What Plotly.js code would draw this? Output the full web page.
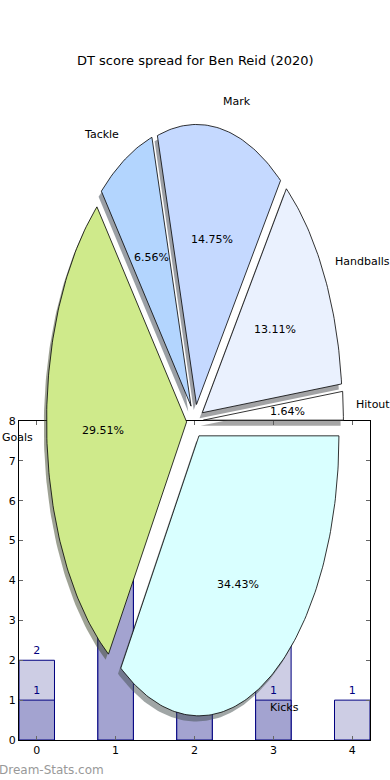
<!DOCTYPE html>
<html>
<head>
<meta charset="utf-8">
<script src="https://cdn.plot.ly/plotly-3.0.1.min.js"></script>
<style>html,body{margin:0;padding:0;background:#fff;}#chart{width:390px;height:780px;}</style>
</head>
<body>
<div id="chart"></div>
<script>
// ---- data ----
const pieLabels = ['Hitout', 'Handballs', 'Mark', 'Tackle', 'Goals', 'Kicks'];
const pieValues = [1, 8, 9, 4, 18, 21];
const barCategories = [0, 1, 2, 3, 4];
const barLight = [2, 5, 1, 3, 1];
const barDark = [1, 5, 1, 1, null];
const titleText = 'DT score spread for Ben Reid (2020)';

// ---- styles ----
const pieColors = ['#ffffff', '#eaf1fe', '#c5d9ff', '#b3d5fe', '#cfea8b', '#d9ffff'];
const explode = 0.06;
const W = 390, H = 780;
const cxPx = 195, cyPx = 421, rxPx = 140, ryPx = 280;

const total = pieValues.reduce((a, b) => a + b, 0);
const traces = [];
const annotations = [];

// bars
traces.push({
  type: 'bar', x: barCategories, y: barLight, width: 0.45,
  marker: {color: '#cdcde4', line: {color: '#000080', width: 1}},
  text: barLight.map(v => v == null ? '' : String(v)), textposition: 'outside',
  textfont: {family: 'DejaVu Sans', size: 11, color: '#000080'},
  cliponaxis: false, xaxis: 'x', yaxis: 'y', hoverinfo: 'skip'
});
traces.push({
  type: 'bar', x: barCategories, y: barDark, width: 0.45,
  marker: {color: '#a3a3d0', line: {color: '#000080', width: 1}},
  text: barDark.map(v => v == null ? '' : String(v)), textposition: 'outside',
  textfont: {family: 'DejaVu Sans', size: 11, color: '#000080'},
  cliponaxis: false, xaxis: 'x', yaxis: 'y', hoverinfo: 'skip'
});

// pie wedges (elliptical because the axes are not equal-aspect)
function hexToRgb(h) {
  return [parseInt(h.substr(1, 2), 16), parseInt(h.substr(3, 2), 16), parseInt(h.substr(5, 2), 16)];
}
let cum = 0;
pieValues.forEach((v, i) => {
  const t1 = cum / total * 2 * Math.PI;
  cum += v;
  const t2 = cum / total * 2 * Math.PI;
  const tm = (t1 + t2) / 2;
  const ox = explode * Math.cos(tm), oy = explode * Math.sin(tm);
  const n = Math.max(8, Math.ceil((t2 - t1) / (2 * Math.PI) * 360));
  const xs = [ox], ys = [oy];
  for (let k = 0; k <= n; k++) {
    const t = t1 + (t2 - t1) * k / n;
    xs.push(ox + Math.cos(t));
    ys.push(oy + Math.sin(t));
  }
  xs.push(ox); ys.push(oy);
  const rgb = hexToRgb(pieColors[i]).map(c => Math.round(c * 0.3));
  // shadow
  traces.push({
    type: 'scatter', mode: 'lines', x: xs.map(x => x - 0.02), y: ys.map(y => y - 0.02),
    fill: 'toself', fillcolor: `rgba(${rgb[0]},${rgb[1]},${rgb[2]},0.5)`,
    line: {width: 0, color: 'rgba(0,0,0,0)'},
    xaxis: 'x2', yaxis: 'y2', hoverinfo: 'skip', showlegend: false
  });
  // wedge
  traces.push({
    type: 'scatter', mode: 'lines', x: xs, y: ys,
    fill: 'toself', fillcolor: pieColors[i],
    line: {width: 0.8, color: '#000'},
    xaxis: 'x2', yaxis: 'y2', hoverinfo: 'skip', showlegend: false
  });
  // label
  const lx = ox + 1.1 * Math.cos(tm), ly = oy + 1.1 * Math.sin(tm);
  annotations.push({
    xref: 'x2', yref: 'y2', x: lx, y: ly, text: pieLabels[i], showarrow: false,
    xanchor: lx > 0 ? 'left' : 'right', yanchor: 'middle', xshift: lx > 0 ? -2 : 1,
    font: {family: 'DejaVu Sans', size: 11, color: '#000'}, borderpad: 0
  });
  // percentage
  const px = ox + 0.6 * Math.cos(tm), py = oy + 0.6 * Math.sin(tm);
  annotations.push({
    xref: 'x2', yref: 'y2', x: px, y: py, text: (v / total * 100).toFixed(2) + '%',
    showarrow: false, xanchor: 'center', yanchor: 'middle',
    font: {family: 'DejaVu Sans', size: 11, color: '#000'}, borderpad: 0
  });
});

annotations.push({
  xref: 'paper', yref: 'paper', x: 0.5, y: 1 - 61 / H, text: titleText, showarrow: false,
  xanchor: 'center', yanchor: 'middle', font: {family: 'DejaVu Sans', size: 13, color: '#000'}
});
annotations.push({
  xref: 'paper', yref: 'paper', x: 0, y: 1 - 770 / H, text: 'Dream-Stats.com', showarrow: false,
  xanchor: 'left', yanchor: 'middle', xshift: -2, borderpad: 0,
  font: {family: 'DejaVu Sans', size: 12, color: '#999'}
});

const axisCommon = {
  showline: true, linecolor: '#000', linewidth: 1, mirror: 'ticks',
  ticks: 'inside', ticklen: 4, tickcolor: '#666', showgrid: false, zeroline: false,
  tickfont: {family: 'DejaVu Sans', size: 11, color: '#000'}, fixedrange: true
};

const layout = {
  width: W, height: H, margin: {l: 0, r: 0, t: 0, b: 0},
  paper_bgcolor: '#fff', plot_bgcolor: 'rgba(0,0,0,0)',
  showlegend: false, barmode: 'overlay',
  xaxis: Object.assign({}, axisCommon, {
    domain: [19 / W, 370 / W], range: [-0.225, 4.225], tickvals: barCategories, anchor: 'y'
  }),
  yaxis: Object.assign({}, axisCommon, {
    domain: [1 - 740 / H, 1 - 421 / H], range: [0, 8], dtick: 1, anchor: 'x'
  }),
  xaxis2: {
    domain: [0, 1], range: [-cxPx / rxPx, (W - cxPx) / rxPx], visible: false,
    anchor: 'y2', fixedrange: true
  },
  yaxis2: {
    domain: [0, 1], range: [-(H - cyPx) / ryPx, cyPx / ryPx], visible: false,
    anchor: 'x2', fixedrange: true
  },
  annotations: annotations
};

Plotly.newPlot('chart', traces, layout, {staticPlot: true, displayModeBar: false});
</script>
</body>
</html>
